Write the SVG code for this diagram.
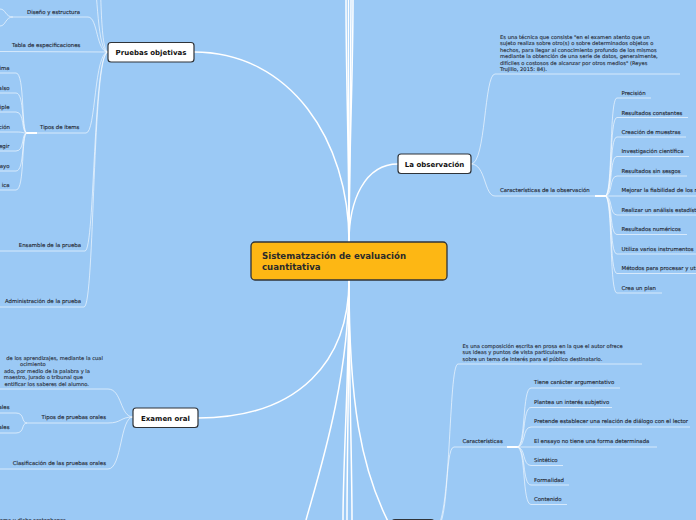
<svg xmlns="http://www.w3.org/2000/svg" width="696" height="520" viewBox="0 0 696 520">
<style>
.bg{fill:#9BC9F5}
.main{fill:none;stroke:#ffffff;stroke-width:1.5}
.sub{fill:none;stroke:#ffffff;stroke-opacity:0.6;stroke-width:1}
.hl{stroke:#ffffff;stroke-width:2}
.t{font-family:"DejaVu Sans",Verdana,sans-serif;font-size:5.4px;fill:#1f2630;stroke:#1f2630;stroke-width:0.12}
.d{font-family:"DejaVu Sans",Verdana,sans-serif;font-size:5.2px;fill:#1f2630;stroke:#1f2630;stroke-width:0.1}
.nb{fill:#ffffff;stroke:#2f3338;stroke-width:1.2}
.nt{font-family:"DejaVu Sans",Verdana,sans-serif;font-size:7px;font-weight:bold;fill:#111;text-anchor:middle}
.ct{font-family:"DejaVu Sans",Verdana,sans-serif;font-size:8.6px;font-weight:bold;fill:#2a2a2a}
</style>
<rect class="bg" x="0" y="0" width="696" height="520"/>
<g id="connectors">
<path class="main" d="M349,242 C349,150 346,80 346,0"/>
<path class="main" d="M349,242 C349,150 348,80 348.5,0"/>
<path class="main" d="M349,242 C349,150 351,80 351,0"/>
<path class="main" d="M349,242 C349,150 353,80 353,0"/>
<path class="main" d="M349,280 C349,380 320,470 306,520"/>
<path class="main" d="M349,280 C349,380 343,460 343,520"/>
<path class="main" d="M349,280 C349,380 347,460 347,520"/>
<path class="main" d="M349,280 C349,380 352,460 352,520"/>
<path class="main" d="M349,280 C349,400 360,470 392,529"/>
<path class="main" d="M194,52 C290,52 349,140 349,242"/>
<path class="main" d="M198,418 C300,418 349,360 349,280"/>
<path class="main" d="M398,164 C365,164 349,200 349,242"/>
<path class="sub" d="M108,52 C97,52 98,-10 93,-30"/>
<path class="sub" d="M108,52 C100,52 101,-20 99,-60"/>
<path class="sub" d="M108,52 C96,52 98,17 88,17 L13,17"/>
<path class="sub" d="M13,17 C5,17 6,9 0,9"/>
<path class="sub" d="M13,17 C5,17 6,26 0,26"/>
<path class="sub" d="M108,52 L0,51.5"/>
<path class="sub" d="M108,52 C94,52 96,133 86,133 L27,133"/>
<path class="sub" d="M108,52 C93,52 95,251 85,251 L0,251"/>
<path class="sub" d="M108,52 C92,52 95,307 84,307 L0,307"/>
<path class="sub" d="M27,133 C21,133 25,73 16,73 L0,73"/>
<path class="sub" d="M27,133 C21,133 25,93 16,93 L0,93"/>
<path class="sub" d="M27,133 C21,133 25,112 16,112 L0,112"/>
<path class="sub" d="M27,133 C21,133 25,132 16,132 L0,132"/>
<path class="sub" d="M27,133 C21,133 25,151 16,151 L0,151"/>
<path class="sub" d="M27,133 C21,133 25,171 16,171 L0,171"/>
<path class="sub" d="M27,133 C21,133 25,190 16,190 L0,190"/>
<line class="hl" x1="27" y1="133" x2="37" y2="133"/>
<path class="sub" d="M133,417 C120,417 122,389 108,389 L0,389"/>
<path class="sub" d="M133,417 C120,417 122,423 108,423 L27,423"/>
<path class="sub" d="M133,417 C120,417 122,469 108,469 L0,469"/>
<path class="sub" d="M27,423 C21,423 25,413 16,413 L0,413"/>
<path class="sub" d="M27,423 C21,423 25,433 16,433 L0,433"/>
<path class="sub" d="M471,164 C486,164 484,74 495,74 L680,74"/>
<path class="sub" d="M471,164 C486,164 484,196 495,196 L605,196"/>
<line class="hl" x1="595" y1="196" x2="605" y2="196"/>
<path class="sub" d="M605,196 C613,196 609,98 617,98 L651,98"/>
<path class="sub" d="M605,196 C613,196 609,117.5 617,117.5 L688,117.5"/>
<path class="sub" d="M605,196 C613,196 609,137 617,137 L686,137"/>
<path class="sub" d="M605,196 C613,196 609,156.5 617,156.5 L689,156.5"/>
<path class="sub" d="M605,196 C613,196 609,176 617,176 L687,176"/>
<path class="sub" d="M605,196 L696,196"/>
<path class="sub" d="M605,196 C613,196 609,215 617,215 L696,215"/>
<path class="sub" d="M605,196 C613,196 609,234.5 617,234.5 L687,234.5"/>
<path class="sub" d="M605,196 C613,196 609,254 617,254 L696,254"/>
<path class="sub" d="M605,196 C613,196 609,273.5 617,273.5 L696,273.5"/>
<path class="sub" d="M605,196 C613,196 609,293 617,293 L662,293"/>
<path class="sub" d="M434,530 C452,530 448,364 458,364 L642,364"/>
<path class="sub" d="M434,530 C450,530 444,447 454,447 L517,447"/>
<line class="hl" x1="507" y1="447" x2="517" y2="447"/>
<path class="sub" d="M517,447 C526,447 522,388 531,388 L620,388"/>
<path class="sub" d="M517,447 C526,447 522,407.5 531,407.5 L612,407.5"/>
<path class="sub" d="M517,447 C526,447 522,427 531,427 L690,427"/>
<path class="sub" d="M517,447 L657,447"/>
<path class="sub" d="M517,447 C526,447 522,465.5 531,465.5 L563,465.5"/>
<path class="sub" d="M517,447 C526,447 522,485 531,485 L569,485"/>
<path class="sub" d="M517,447 C526,447 522,504.5 531,504.5 L567,504.5"/>
</g>
<g id="central">
<rect x="251" y="242" width="196" height="38" rx="4" fill="#FDB714" stroke="#2f3338" stroke-width="1.3"/>
<text class="ct" x="262" y="259">Sistematzación de evaluación</text>
<text class="ct" x="262" y="270">cuantitativa</text>
</g>
<g id="pruebas-objetivas">
<rect class="nb" x="108" y="42.5" width="86" height="19.5" rx="3"/>
<text class="nt" x="151" y="55">Pruebas objetivas</text>
</g>
<g id="la-observacion">
<rect class="nb" x="398" y="154" width="73" height="19.5" rx="3"/>
<text class="nt" x="434.5" y="166.5">La observación</text>
</g>
<g id="examen-oral">
<rect class="nb" x="133" y="408" width="65" height="19.5" rx="3"/>
<text class="nt" x="165.5" y="420.5">Examen oral</text>
</g>
<g id="ensayo">
<rect class="nb" x="392" y="519.5" width="42" height="20" rx="3"/>
</g>
<g id="pruebas-children">
<text class="t" x="27" y="14">Diseño y estructura</text>
<text class="t" x="12" y="47">Tabla de especificaciones</text>
<text class="t" x="40" y="129">Tipos de ítems</text>
<text class="t" x="81" y="247" text-anchor="end">Ensamble de la prueba</text>
<text class="t" x="81" y="303" text-anchor="end">Administración de la prueba</text>
</g>
<g id="tipos-items-children">
<text class="t" x="9.5" y="69.5" text-anchor="end">ima</text>
<text class="t" x="9.5" y="89.5" text-anchor="end">also</text>
<text class="t" x="9.5" y="108.5" text-anchor="end">iple</text>
<text class="t" x="10" y="128.5" text-anchor="end">ción</text>
<text class="t" x="9.5" y="147.5" text-anchor="end">egir</text>
<text class="t" x="9.5" y="167.5" text-anchor="end">ayo</text>
<text class="t" x="9.5" y="186.5" text-anchor="end">ica</text>
</g>
<g id="examen-children">
<text class="d" x="103" y="359.5" text-anchor="end">de los aprendizajes, mediante la cual</text>
<text class="d" x="20" y="366">ocimiento</text>
<text class="d" x="90" y="372.5" text-anchor="end">ado, por medio de la palabra y la</text>
<text class="d" x="83" y="379" text-anchor="end">maestro, jurado o tribunal que</text>
<text class="d" x="89" y="385.5" text-anchor="end">entificar los saberes del alumno.</text>
<text class="t" x="106" y="419" text-anchor="end">Tipos de pruebas orales</text>
<text class="t" x="9.5" y="409" text-anchor="end">ales</text>
<text class="t" x="9.5" y="429" text-anchor="end">ales</text>
<text class="t" x="106" y="465" text-anchor="end">Clasificación de las pruebas orales</text>
<text class="d" x="66" y="522" text-anchor="end">tema y dicho sostenbanza</text>
</g>
<g id="observacion-children">
<text class="d" x="500" y="38.5">Es una técnica que consiste "en el examen atento que un</text>
<text class="d" x="500" y="45">sujeto realiza sobre otro(s) o sobre determinados objetos o</text>
<text class="d" x="500" y="51.5">hechos, para llegar al conocimiento profundo de los mismos</text>
<text class="d" x="500" y="58">mediante la obtención de una serie de datos, generalmente,</text>
<text class="d" x="500" y="64.5">difíciles o costosos de alcanzar por otros medios" (Reyes</text>
<text class="d" x="500" y="71">Trujillo, 2015: 84).</text>
<text class="t" x="500" y="192">Características de la observación</text>
<text class="t" x="621.5" y="95">Precisión</text>
<text class="t" x="621.5" y="114.5">Resultados constantes</text>
<text class="t" x="621.5" y="134">Creación de muestras</text>
<text class="t" x="621.5" y="153">Investigación científica</text>
<text class="t" x="621.5" y="173">Resultados sin sesgos</text>
<text class="t" x="621.5" y="192">Mejorar la fiabilidad de los resultados</text>
<text class="t" x="621.5" y="212">Realizar un análisis estadístico</text>
<text class="t" x="621.5" y="231">Resultados numéricos</text>
<text class="t" x="621.5" y="251">Utiliza varios instrumentos</text>
<text class="t" x="621.5" y="270">Métodos para procesar y utilizar datos</text>
<text class="t" x="621.5" y="290">Crea un plan</text>
</g>
<g id="ensayo-children">
<text class="d" x="462.5" y="347.5">Es una composición escrita en prosa en la que el autor ofrece</text>
<text class="d" x="462.5" y="354">sus ideas y puntos de vista particulares</text>
<text class="d" x="462.5" y="360.5">sobre un tema de interés para el público destinatario.</text>
<text class="t" x="462.5" y="443">Características</text>
<text class="t" x="534" y="384">Tiene carácter argumentativo</text>
<text class="t" x="534" y="403.5">Plantea un interés subjetivo</text>
<text class="t" x="534" y="423">Pretende establecer una relación de diálogo con el lector</text>
<text class="t" x="534" y="443">El ensayo no tiene una forma determinada</text>
<text class="t" x="534" y="462">Sintético</text>
<text class="t" x="534" y="482">Formalidad</text>
<text class="t" x="534" y="501">Contenido</text>
</g>
</svg>
